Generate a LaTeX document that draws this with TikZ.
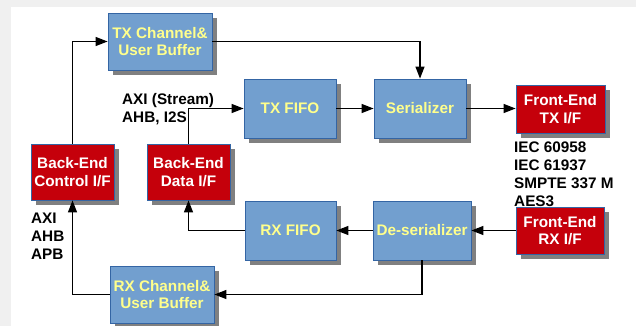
\documentclass[tikz,border=0pt]{standalone}
\usepackage{fontspec}
\setmainfont{Liberation Sans}
\usetikzlibrary{shadows,arrows.meta}
\definecolor{bluefill}{HTML}{729FCF}
\definecolor{boxborder}{HTML}{3465A4}
\definecolor{redfill}{HTML}{C5000B}
\definecolor{yellowtext}{HTML}{FFFF8C}
\definecolor{bggray}{HTML}{F0F0F0}
\definecolor{shadowgray}{HTML}{808080}
\tikzset{
  blk/.style={draw=boxborder, line width=0.8pt, align=center, inner sep=0pt,
    font=\fontsize{15.3}{17.5}\selectfont\bfseries,
    drop shadow={shadow xshift=5pt, shadow yshift=-5pt, fill=shadowgray, opacity=1}},
  bluebox/.style={blk, fill=bluefill, text=yellowtext},
  redbox/.style={blk, fill=redfill, text=white},
  conn/.style={line width=1.2pt, -{Triangle[length=12pt,width=9pt]}},
  lbl/.style={font=\fontsize{15.3}{18}\selectfont\bfseries, align=left, inner sep=0pt, anchor=west}
}
\begin{document}
\begin{tikzpicture}[x=1pt,y=-1pt]
\useasboundingbox (0,0) rectangle (636,326);
\fill[bggray] (0,0) rectangle (636,326);
\fill[white] (11,7) rectangle (636,326);

\node[bluebox, minimum width=104pt, minimum height=57pt] (txch) at (160,41.5) {TX Channel\&\\User Buffer};
\node[bluebox, minimum width=92pt, minimum height=59pt] (txfifo) at (290,108.5) {TX FIFO};
\node[bluebox, minimum width=92pt, minimum height=59pt] (ser) at (420,108.5) {Serializer};
\node[redbox, minimum width=89pt, minimum height=48pt] (fetx) at (560.5,109) {Front-End\\TX I/F};
\node[redbox, minimum width=83pt, minimum height=56pt] (bec) at (72.5,172) {Back-End\\Control I/F};
\node[redbox, minimum width=83pt, minimum height=56pt] (bed) at (188.5,172) {Back-End\\Data I/F};
\node[bluebox, minimum width=91pt, minimum height=59pt] (rxfifo) at (290.5,230.5) {RX FIFO};
\node[bluebox, minimum width=98pt, minimum height=59pt] (deser) at (422,230.5) {De-serializer};
\node[redbox, minimum width=88pt, minimum height=47pt] (ferx) at (560,230.5) {Front-End\\RX I/F};
\node[bluebox, minimum width=104pt, minimum height=57pt] (rxch) at (162,294.5) {RX Channel\&\\User Buffer};

\node[lbl] (lblaxis) at (122,109.5) {AXI (Stream)\\AHB, I2S};
\node[lbl] (lbliec) at (514,174) {IEC 60958\\IEC 61937\\SMPTE 337 M\\AES3};
\node[lbl] (lblaxi) at (31,236.5) {AXI\\AHB\\APB};

\draw[conn] (bec.north) |- (txch.west);
\draw[conn] (txch.east) -| (ser.north);
\draw[conn] (bed.north) |- (txfifo.west);
\draw[conn] (txfifo.east) -- (ser.west);
\draw[conn] (ser.east) -- (fetx.west |- ser.east);
\draw[conn] (ferx.west) -- (deser.east);
\draw[conn] (deser.west) -- (rxfifo.east);
\draw[conn] (rxfifo.west) -| (bed.south);
\draw[conn] (deser.south) |- (rxch.east);
\draw[conn] (rxch.west) -| (bec.south);
\end{tikzpicture}
\end{document}
